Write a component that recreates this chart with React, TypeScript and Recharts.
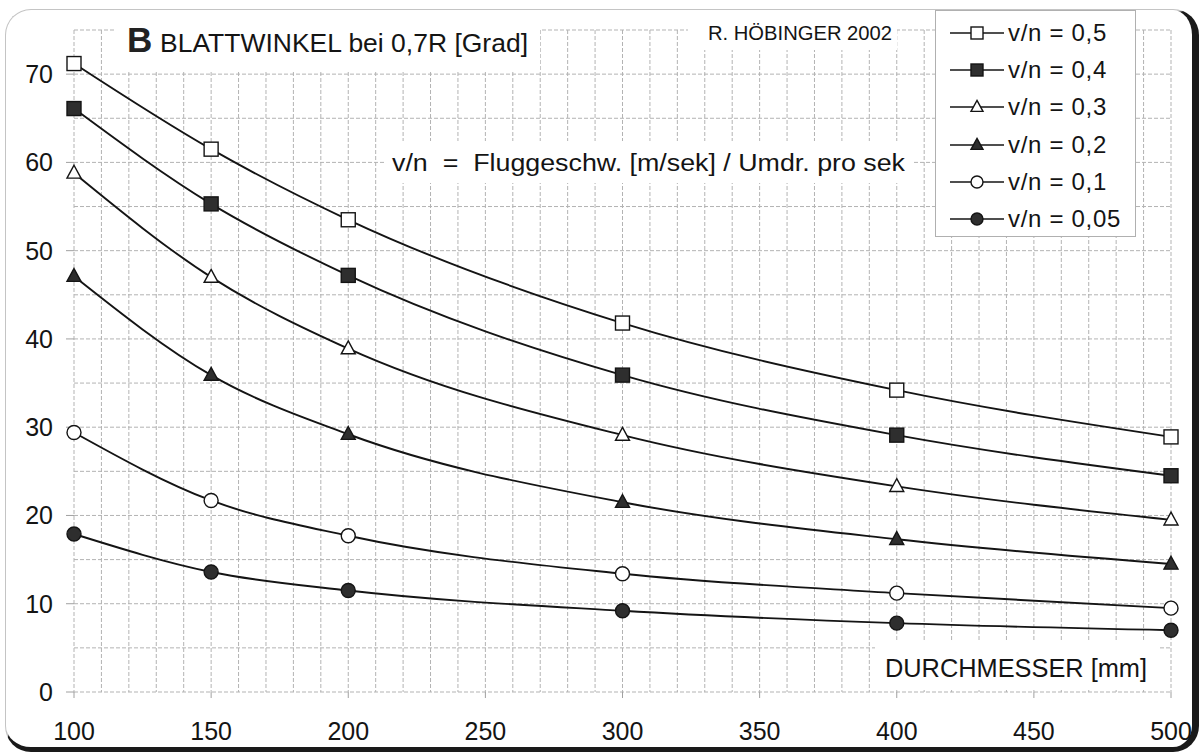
import React from 'react';
import { LineChart, Line, XAxis, YAxis, CartesianGrid, Legend } from 'recharts';

// ---- data ----
const diameters = [100, 150, 200, 300, 400, 500];
const vn05 = [71.2, 61.5, 53.5, 41.8, 34.2, 28.9];
const vn04 = [66.1, 55.3, 47.2, 35.9, 29.1, 24.5];
const vn03 = [58.8, 47.0, 38.9, 29.1, 23.3, 19.5];
const vn02 = [47.1, 35.9, 29.2, 21.5, 17.3, 14.5];
const vn01 = [29.4, 21.7, 17.7, 13.4, 11.2, 9.5];
const vn005 = [17.9, 13.6, 11.5, 9.2, 7.8, 7.0];

const seriesLabels = ['v/n = 0,5', 'v/n = 0,4', 'v/n = 0,3', 'v/n = 0,2', 'v/n = 0,1', 'v/n = 0,05'];
const xTicks = [100, 150, 200, 250, 300, 350, 400, 450, 500];
const yTicks = [0, 10, 20, 30, 40, 50, 60, 70];
const xGridValues = [100, 110, 120, 130, 140, 150, 160, 170, 180, 190, 200, 210, 220, 230, 240, 250, 260, 270, 280, 290, 300, 310, 320, 330, 340, 350, 360, 370, 380, 390, 400, 410, 420, 430, 440, 450, 460, 470, 480, 490, 500];
const yGridValues = [0, 5, 10, 15, 20, 25, 30, 35, 40, 45, 50, 55, 60, 65, 70, 75];

const titleLetter = 'B';
const titleText = 'BLATTWINKEL bei 0,7R [Grad]';
const authorText = 'R. HÖBINGER 2002';
const noteText = 'v/n  =  Fluggeschw. [m/sek] / Umdr. pro sek';
const xAxisTitle = 'DURCHMESSER [mm]';

type Shape = 'square' | 'triangle' | 'circle';
const series: { key: string; name: string; values: number[]; shape: Shape; filled: boolean }[] = [
  { key: 's05', name: seriesLabels[0], values: vn05, shape: 'square', filled: false },
  { key: 's04', name: seriesLabels[1], values: vn04, shape: 'square', filled: true },
  { key: 's03', name: seriesLabels[2], values: vn03, shape: 'triangle', filled: false },
  { key: 's02', name: seriesLabels[3], values: vn02, shape: 'triangle', filled: true },
  { key: 's01', name: seriesLabels[4], values: vn01, shape: 'circle', filled: false },
  { key: 's005', name: seriesLabels[5], values: vn005, shape: 'circle', filled: true },
];

const data = diameters.map((d, i) => {
  const row: Record<string, number> = { d };
  series.forEach((s) => {
    row[s.key] = s.values[i];
  });
  return row;
});

const FONT = '"Liberation Sans", Arial, Helvetica, sans-serif';
const INK = '#141414';
const DARK_FILL = '#2e2e2e';

function Marker({ cx, cy, shape, filled, size }: { cx: number; cy: number; shape: Shape; filled: boolean; size: number }) {
  const common = { fill: filled ? DARK_FILL : '#ffffff', stroke: INK, strokeWidth: 1.4 };
  if (shape === 'square') {
    return <rect x={cx - size / 2} y={cy - size / 2} width={size} height={size} {...common} />;
  }
  if (shape === 'circle') {
    return <circle cx={cx} cy={cy} r={size / 2} {...common} />;
  }
  const h = size * 0.92;
  return (
    <polygon
      points={`${cx},${cy - h * 0.6} ${cx + size / 2},${cy + h * 0.4} ${cx - size / 2},${cy + h * 0.4}`}
      {...common}
    />
  );
}

function renderLegend() {
  return (
    <div
      style={{
        width: 201,
        height: 227,
        boxSizing: 'border-box',
        background: '#ffffff',
        border: '1px solid #b0b0b0',
        paddingTop: 3,
        paddingLeft: 14,
        fontFamily: FONT,
      }}
    >
      {series.map((s) => (
        <div key={s.key} style={{ display: 'flex', alignItems: 'center', height: 37.3 }}>
          <svg width={56} height={20} style={{ display: 'block' }}>
            <line x1={0} y1={10} x2={54} y2={10} stroke={INK} strokeWidth={1.6} />
            <Marker cx={27} cy={10} shape={s.shape} filled={s.filled} size={12} />
          </svg>
          <span style={{ fontSize: 24, color: INK, marginLeft: 2, letterSpacing: 0.7, whiteSpace: 'nowrap' }}>{s.name}</span>
        </div>
      ))}
    </div>
  );
}

export default function App() {
  return (
    <div style={{ position: 'absolute', left: 0, top: 0, width: 1202, height: 754, background: '#ffffff', overflow: 'hidden' }}>
      {/* card frame */}
      <div
        style={{
          position: 'absolute',
          left: 5,
          top: 9,
          width: 1194,
          height: 743,
          boxSizing: 'border-box',
          borderRadius: 26,
          borderTop: '1.5px solid #c4c4c4',
          borderLeft: '1.5px solid #c4c4c4',
          borderRight: '7px solid #1a1a1a',
          borderBottom: '5px solid #1a1a1a',
        }}
      />
      <div style={{ position: 'absolute', left: 0, top: 0 }}>
        <LineChart width={1202} height={754} data={data} margin={{ top: 30, right: 31, left: 14, bottom: 22 }}>
          <CartesianGrid
            horizontalValues={yGridValues}
            verticalValues={xGridValues}
            stroke="#b3b3b3"
            strokeDasharray="4 2"
            strokeWidth={1}
          />
          <XAxis
            dataKey="d"
            type="number"
            domain={[100, 500]}
            ticks={xTicks}
            interval={0}
            axisLine={false}
            tickLine={{ stroke: '#a0a0a0' }}
            tickSize={6}
            tickMargin={24}
            height={40}
            tick={{ fill: INK, fontSize: 25, fontFamily: FONT }}
          />
          <YAxis
            type="number"
            domain={[0, 75]}
            ticks={yTicks}
            interval={0}
            axisLine={false}
            tickLine={{ stroke: '#a0a0a0' }}
            tickSize={8}
            tickMargin={13}
            width={60}
            tick={{ fill: INK, fontSize: 25, fontFamily: FONT }}
          />
          <Legend
            layout="vertical"
            align="center"
            verticalAlign="middle"
            wrapperStyle={{ left: 935, top: 10, width: 201, height: 227 }}
            content={renderLegend}
          />
          {series.map((s) => (
            <Line
              key={s.key}
              dataKey={s.key}
              name={s.name}
              type="monotone"
              stroke={INK}
              strokeWidth={1.9}
              isAnimationActive={false}
              activeDot={false}
              dot={(p: any) => (
                <Marker key={`${s.key}-${p.index}`} cx={p.cx} cy={p.cy} shape={s.shape} filled={s.filled} size={14} />
              )}
            />
          ))}
        </LineChart>
      </div>
      {/* text boxes */}
      <svg width={1202} height={754} style={{ position: 'absolute', left: 0, top: 0, pointerEvents: 'none' }}>
        <rect x={116} y={29} width={424} height={42} fill="#ffffff" />
        <rect x={688} y={13} width={209} height={37} fill="#ffffff" />
        <rect x={385} y={141} width={527} height={42} fill="#ffffff" />
        <rect x={875} y={640} width={285} height={48} fill="#ffffff" />
        <text x={127} y={52} fontFamily={FONT} fontWeight="bold" fontSize={35} fill="#222">{titleLetter}</text>
        <text x={160} y={52} fontFamily={FONT} fontSize={26} fill={INK} textLength={368} lengthAdjust="spacingAndGlyphs">{titleText}</text>
        <text x={708} y={40} fontFamily={FONT} fontSize={20} fill={INK} textLength={184} lengthAdjust="spacingAndGlyphs">{authorText}</text>
        <text x={392} y={171} fontFamily={FONT} fontSize={23} fill={INK} textLength={513} lengthAdjust="spacingAndGlyphs" style={{ whiteSpace: 'pre' }}>{noteText}</text>
        <text x={885} y={677} fontFamily={FONT} fontSize={26} fill={INK} textLength={262} lengthAdjust="spacingAndGlyphs">{xAxisTitle}</text>
      </svg>
    </div>
  );
}
